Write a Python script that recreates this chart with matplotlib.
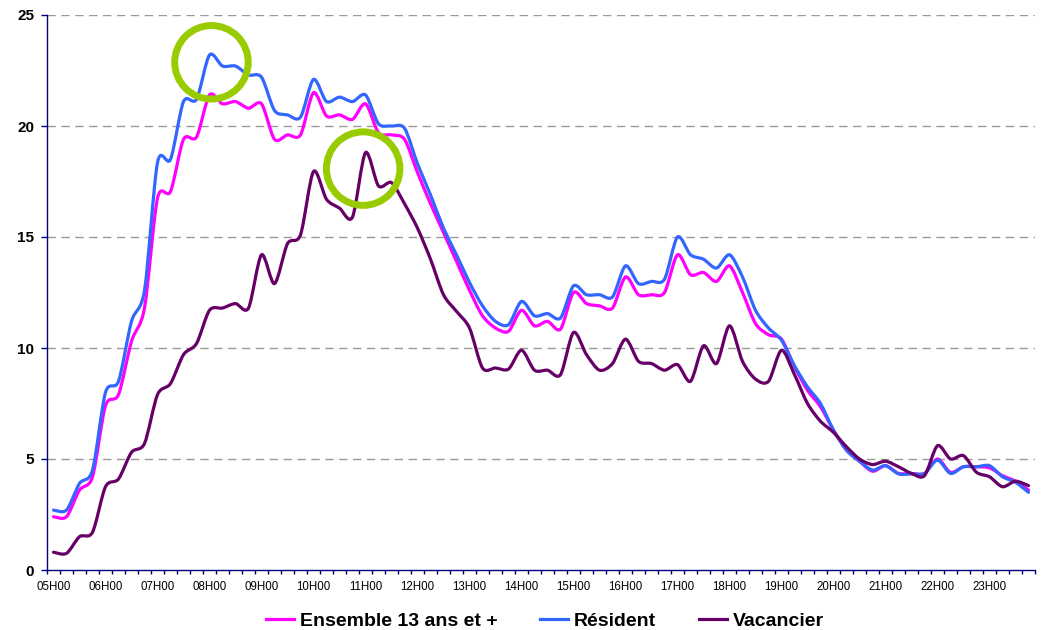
import matplotlib
matplotlib.use("Agg")
import matplotlib.pyplot as plt
from matplotlib.path import Path
from matplotlib.patches import PathPatch
from matplotlib.lines import Line2D
import numpy as np

plt.rcParams['font.family'] = ['Liberation Sans', 'DejaVu Sans']

hours = list(range(5, 24))
categories = [f"{h:02d}H{m:02d}" for h in hours for m in (0, 15, 30, 45)]
tick_labels = [f"{h:02d}H00" for h in hours]

series_names = ["Ensemble 13 ans et +", "Résident", "Vacancier"]

ensemble = [2.4, 2.4, 3.6, 4.2,
            7.4, 7.9, 10.3, 11.8,
            16.75, 17.05, 19.4, 19.5,
            21.4, 21.0, 21.1, 20.8,
            21.0, 19.4, 19.6, 19.6,
            21.5, 20.45, 20.5, 20.3,
            21.0, 19.7, 19.6, 19.4,
            17.9, 16.5, 15.2, 13.9,
            12.6, 11.45, 10.9, 10.75,
            11.7, 11.0, 11.2, 10.85,
            12.5, 12.0, 11.9, 11.8,
            13.2, 12.4, 12.4, 12.5,
            14.2, 13.3, 13.4, 13.0,
            13.7, 12.5, 11.1, 10.6,
            10.4, 9.15, 8.1, 7.35,
            6.3, 5.4, 4.9, 4.45,
            4.7, 4.35, 4.35, 4.35,
            5.0, 4.4, 4.65, 4.65,
            4.6, 4.25, 4.0, 3.6]

resident = [2.7, 2.7, 3.9, 4.5,
            8.0, 8.5, 11.2, 12.6,
            18.35, 18.5, 21.1, 21.2,
            23.2, 22.7, 22.7, 22.3,
            22.2, 20.7, 20.5, 20.4,
            22.1, 21.1, 21.3, 21.1,
            21.4, 20.1, 20.0, 19.9,
            18.3, 16.9, 15.4, 14.2,
            12.95, 11.9, 11.2, 11.05,
            12.1, 11.45, 11.55, 11.35,
            12.8, 12.4, 12.4, 12.3,
            13.7, 12.9, 13.0, 13.1,
            15.0, 14.2, 14.0, 13.6,
            14.2, 13.2, 11.7, 10.9,
            10.35, 9.2, 8.25, 7.5,
            6.3, 5.4, 4.9, 4.5,
            4.7, 4.33, 4.33, 4.35,
            4.95, 4.35, 4.65, 4.65,
            4.7, 4.2, 3.95, 3.5]

vacancier = [0.8, 0.75, 1.5, 1.7,
             3.75, 4.1, 5.3, 5.7,
             7.9, 8.4, 9.7, 10.2,
             11.7, 11.8, 12.0, 11.8,
             14.2, 12.9, 14.7, 15.1,
             17.95, 16.7, 16.3, 15.9,
             18.8, 17.3, 17.45, 16.5,
             15.4, 14.0, 12.4, 11.65,
             10.9, 9.1, 9.1, 9.05,
             9.9, 9.0, 9.0, 8.8,
             10.7, 9.7, 9.0, 9.3,
             10.4, 9.4, 9.3, 9.0,
             9.25, 8.5, 10.1, 9.3,
             11.0, 9.4, 8.6, 8.5,
             9.9, 8.8, 7.5, 6.7,
             6.2, 5.55, 5.0, 4.75,
             4.9, 4.65, 4.35, 4.25,
             5.6, 5.0, 5.15, 4.4,
             4.2, 3.75, 4.0, 3.8]

# highlight circles (category position, value)
circle_x = [12.15, 23.82]
circle_y = [22.87, 18.08]

colors = ["#FF00FF", "#3366FF", "#660066"]


def smooth_path(xs, ys, k=1.0 / 7.0):
    pts = np.column_stack([xs, ys]).astype(float)
    n = len(pts)
    verts = [pts[0]]
    codes = [Path.MOVETO]
    for i in range(n - 1):
        p0 = pts[i - 1] if i > 0 else pts[i]
        p1 = pts[i]
        p2 = pts[i + 1]
        p3 = pts[i + 2] if i + 2 < n else pts[i + 1]
        c1 = p1 + (p2 - p0) * k
        c2 = p2 - (p3 - p1) * k
        verts += [c1, c2, p2]
        codes += [Path.CURVE4] * 3
    return Path(verts, codes)


fig = plt.figure(figsize=(10.41, 6.30), dpi=100)
ax = fig.add_axes([47 / 1041, 60 / 630, (1035 - 47) / 1041, (570 - 15) / 630])

x = np.arange(len(categories))
for vals, col in zip([ensemble, resident, vacancier], colors):
    patch = PathPatch(smooth_path(x, vals), fill=False, edgecolor=col, lw=2.3,
                      capstyle='round', joinstyle='round', zorder=3)
    ax.add_patch(patch)

ax.scatter(circle_x, circle_y, s=2800, facecolors='none', edgecolors='#99CC00',
           linewidths=5.0, zorder=4)

ax.set_xlim(-0.5, len(categories) - 0.5)
ax.set_ylim(0, 25)

ax.set_yticks([0, 5, 10, 15, 20, 25])
ax.set_yticklabels(["0", "5", "10", "15", "20", "25"], fontsize=11, fontweight='bold')
ax.tick_params(axis='y', length=4.3, width=1, color='#000080', pad=5)

ax.set_xticks(np.arange(0, len(categories), 4))
ax.set_xticklabels(tick_labels, fontsize=8.3)
ax.tick_params(axis='x', which='major', length=0, pad=8)
ax.set_xticks(np.arange(-0.5, len(categories), 1), minor=True)
ax.tick_params(axis='x', which='minor', length=3, width=1, color='#000080')

for yv in [5, 10, 15, 20, 25]:
    ax.axhline(yv, color='#999999', lw=1, ls=(0, (6, 4)), zorder=1)

for s in ['top', 'right']:
    ax.spines[s].set_visible(False)
for s in ['left', 'bottom']:
    ax.spines[s].set_color('#000080')
    ax.spines[s].set_linewidth(1)

handles = [Line2D([0], [0], color=c, lw=2.3) for c in colors]
fig.legend(handles, series_names, loc='center', bbox_to_anchor=(545 / 1041, 9 / 630),
           ncol=3, frameon=False, prop={'size': 14, 'weight': 'bold'},
           handlelength=1.45, handletextpad=0.3, columnspacing=2.2,
           borderpad=0, borderaxespad=0)

fig.savefig("out.png", dpi=100)
